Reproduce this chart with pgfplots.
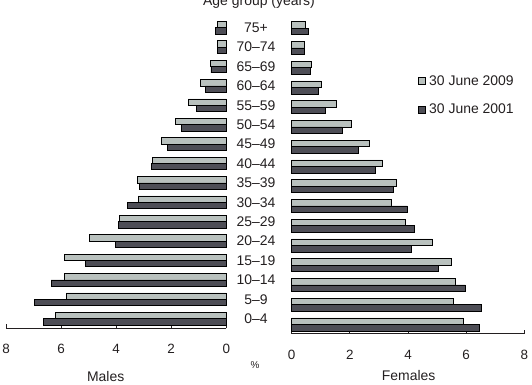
\documentclass[border=0pt]{standalone}
\usepackage{fontspec}
\setmainfont{Liberation Sans}
\usepackage{pgfplots}
\pgfplotsset{compat=1.18}
\definecolor{light}{HTML}{B9C1BE}
\definecolor{dark}{HTML}{4E4E56}
\definecolor{txt}{HTML}{231F20}
\begin{document}
\begin{tikzpicture}[x=1bp,y=1bp]
\useasboundingbox (0,0) rectangle (532,384);
\pgfplotsset{
 pyr/.style={
  scale only axis, xbar,
  xmin=0, xmax=8, xtick={0,2,4,6,8},
  axis x line=bottom, axis y line=none,
  axis line style={-, line width=0.8bp, txt},
  tick align=inside, major tick length=4bp,
  major tick style={line width=0.8bp, txt},
  ytick=\empty,
  /pgf/number format/assume math mode=true,
  xticklabel style={font=\fontsize{13.5}{14}\selectfont, text=txt, yshift=-13bp},
  clip=false,
 }
}
% Males
\begin{axis}[pyr, x dir=reverse,
  at={(6bp,56bp)}, anchor=south west,
  width=220.3bp, height=310bp,
  ymin=-0.48, ymax=15.5, bar width=0.325]
\addplot[fill=light, draw=black, line width=0.7bp, bar shift=0.1625] coordinates {
(6.22,0) (5.81,1) (5.89,2) (5.89,3) (4.98,4) (3.89,5) (3.20,6) (3.24,7)
(2.69,8) (2.36,9) (1.85,10) (1.38,11) (0.95,12) (0.58,13) (0.33,14) (0.33,15)};
\addplot[fill=dark, draw=black, line width=0.7bp, bar shift=-0.1625] coordinates {
(6.65,0) (6.98,1) (6.36,2) (5.13,3) (4.04,4) (3.93,5) (3.60,6) (3.16,7)
(2.73,8) (2.15,9) (1.64,10) (1.09,11) (0.76,12) (0.56,13) (0.33,14) (0.38,15)};
\begin{scope}[every node/.style={font=\fontsize{14}{14}\selectfont, text=txt, anchor=center}]
\node at (axis cs:-1.08,0) {0--4};
\node at (axis cs:-1.08,1) {5--9};
\node at (axis cs:-1.08,2) {10--14};
\node at (axis cs:-1.08,3) {15--19};
\node at (axis cs:-1.08,4) {20--24};
\node at (axis cs:-1.08,5) {25--29};
\node at (axis cs:-1.08,6) {30--34};
\node at (axis cs:-1.08,7) {35--39};
\node at (axis cs:-1.08,8) {40--44};
\node at (axis cs:-1.08,9) {45--49};
\node at (axis cs:-1.08,10) {50--54};
\node at (axis cs:-1.08,11) {55--59};
\node at (axis cs:-1.08,12) {60--64};
\node at (axis cs:-1.08,13) {65--69};
\node at (axis cs:-1.08,14) {70--74};
\node at (axis cs:-1.08,15) {75+};
\end{scope}
\end{axis}
% Females
\begin{axis}[pyr,
  at={(291.7bp,50.3bp)}, anchor=south west,
  width=232.6bp, height=315.4bp,
  ymin=-0.47, ymax=15.5, bar width=0.33,
  legend image code/.code={\draw[#1, line width=0.7bp] (0bp,-3.5bp) rectangle (7bp,3.5bp);},
  legend style={draw=none, fill=none, inner sep=0pt, anchor=west,
    at={(rel axis cs:0.54,0.756)}, row sep=15bp, column sep=3bp,
    font=\fontsize{14}{14}\selectfont, text=txt,
    nodes={inner sep=1bp}, cells={anchor=west}},
  ]
\addplot[fill=light, draw=black, line width=0.7bp, bar shift=0.165] coordinates {
(5.90,0) (5.56,1) (5.63,2) (5.49,3) (4.84,4) (3.91,5) (3.43,6) (3.60,7)
(3.12,8) (2.67,9) (2.05,10) (1.54,11) (1.02,12) (0.68,13) (0.44,14) (0.47,15)};
\addlegendentry{30 June 2009}
\addplot[fill=dark, draw=black, line width=0.7bp, bar shift=-0.165] coordinates {
(6.45,0) (6.52,1) (5.97,2) (5.04,3) (4.11,4) (4.22,5) (3.98,6) (3.50,7)
(2.88,8) (2.29,9) (1.74,10) (1.16,11) (0.93,12) (0.64,13) (0.44,14) (0.57,15)};
\addlegendentry{30 June 2001}
\end{axis}
\node[anchor=base, font=\fontsize{14}{14}\selectfont, text=txt] at (259,378.5) {Age group (years)};
\node[font=\fontsize{10}{10}\selectfont, text=txt] at (255,19) {\%};
\node[font=\fontsize{14}{14}\selectfont, text=txt] at (105.7,7.5) {Males};
\node[font=\fontsize{14}{14}\selectfont, text=txt] at (408.7,8) {Females};
\end{tikzpicture}
\end{document}
